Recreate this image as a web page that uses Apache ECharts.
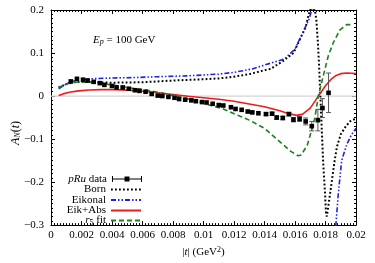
<!DOCTYPE html>
<html><head><meta charset="utf-8">
<script src="https://cdn.jsdelivr.net/npm/echarts@6/dist/echarts.min.js"></script>
<style>html,body{margin:0;padding:0;background:#fff}#c{width:375px;height:263px}</style>
</head><body><div id="c"></div>
<script>
// ---- data ----
const xTicks = [0, 0.002, 0.004, 0.006, 0.008, 0.01, 0.012, 0.014, 0.016, 0.018, 0.02];
const yTicks = [-0.3, -0.2, -0.1, 0, 0.1, 0.2];

// pRu data: |t|, A_N, error
const dataT = [0.0013,0.0017,0.0021,0.0024,0.0028,0.0032,0.0035,0.0040,0.0043,0.0047,0.0051,0.0055,0.0058,0.0062,0.0066,0.0070,0.0073,0.0077,0.0081,0.0084,0.0088,0.0092,0.0095,0.0099,0.0102,0.0106,0.0110,0.0113,0.0118,0.0121,0.0125,0.0129,0.0132,0.0136,0.0141,0.0145,0.0148,0.0152,0.0156,0.0159,0.0163,0.0167,0.0171,0.0175,0.0178,0.0182];
const dataA = [0.034,0.040,0.038,0.036,0.033,0.030,0.026,0.0235,0.020,0.020,0.017,0.0135,0.012,0.010,0.005,0.001,0.000,-0.002,-0.004,-0.007,-0.0085,-0.010,-0.012,-0.014,-0.015,-0.018,-0.021,-0.022,-0.026,-0.030,-0.032,-0.036,-0.038,-0.040,-0.042,-0.041,-0.050,-0.051,-0.042,-0.055,-0.053,-0.059,-0.070,-0.056,-0.028,0.0075];
const dataErr = [0,0,0,0,0,0,0,0,0,0,0,0,0,0,0,0,0,0,0,0,0,0,0,0,0,0,0,0,0,0,0,0,0,0,0.003,0.003,0.004,0.004,0.004,0.005,0.006,0.008,0.011,0.025,0.022,0.046];

const born = [[0.0005,0.020],[0.001,0.028],[0.0015,0.032],[0.002,0.033],[0.003,0.032],[0.004,0.031],[0.006,0.032],[0.008,0.036],[0.010,0.039],[0.011,0.041],[0.012,0.045],[0.013,0.051],[0.014,0.060],[0.0144,0.063],[0.0152,0.081],[0.0159,0.100],[0.0163,0.130],[0.0167,0.160],[0.0169,0.190],[0.0171,0.210],[0.0173,0.200],[0.0174,0.177],[0.0175,0.125],[0.01758,0.070],[0.01775,-0.074],[0.01784,-0.150],[0.01797,-0.227],[0.01803,-0.270],[0.01808,-0.280],[0.01815,-0.265],[0.0183,-0.227],[0.0186,-0.150],[0.01875,-0.118],[0.0190,-0.089],[0.0193,-0.072],[0.0196,-0.059],[0.0200,-0.052]];

const eikonal = [[0.0005,0.017],[0.00125,0.033],[0.0018,0.037],[0.0026,0.040],[0.004,0.042],[0.0055,0.043],[0.007,0.045],[0.009,0.047],[0.011,0.051],[0.012,0.055],[0.0132,0.063],[0.014,0.072],[0.0153,0.086],[0.016,0.109],[0.0165,0.147],[0.0169,0.177],[0.0171,0.200],[0.0173,0.260],null,[0.01855,-0.40],[0.01869,-0.295],[0.01884,-0.227],[0.01906,-0.150],[0.0194,-0.112],[0.0197,-0.090],[0.0200,-0.075]];

const eikAbs = [[0.0005,0.001],[0.0008,0.005],[0.0012,0.009],[0.0018,0.012],[0.0025,0.014],[0.0033,0.015],[0.0042,0.0148],[0.005,0.0138],[0.006,0.011],[0.007,0.0075],[0.008,0.0035],[0.009,-0.0005],[0.010,-0.004],[0.011,-0.0075],[0.012,-0.012],[0.013,-0.0185],[0.014,-0.025],[0.015,-0.034],[0.0155,-0.040],[0.0161,-0.045],[0.0165,-0.042],[0.017,-0.028],[0.0175,-0.002],[0.018,0.024],[0.0184,0.040],[0.0187,0.048],[0.019,0.052],[0.0194,0.0535],[0.0197,0.053],[0.020,0.052]];

const r5fit = [[0.0005,0.020],[0.001,0.028],[0.0015,0.032],[0.002,0.033],[0.003,0.031],[0.004,0.026],[0.005,0.020],[0.006,0.015],[0.007,0.009],[0.0087,-0.004],[0.010,-0.017],[0.0113,-0.030],[0.0124,-0.047],[0.013,-0.056],[0.014,-0.075],[0.0148,-0.100],[0.0157,-0.128],[0.0162,-0.139],[0.0164,-0.137],[0.0168,-0.115],[0.0171,-0.078],[0.0173,-0.051],[0.01753,0.000],[0.01786,0.048],[0.01818,0.093],[0.01851,0.124],[0.01895,0.154],[0.01939,0.166],[0.0197,0.166]];

const zeroLine = [[0,0],[0.02,0]];

// ---- chart ----
const FONT = 'Liberation Serif';
const pts = dataT.map((t,i)=>[t, dataA[i], dataErr[i]]);
const chart = echarts.init(document.getElementById('c'), null, {renderer:'canvas'});

function fmtX(v){ return String(+v.toFixed(4)); }
function fmtY(v){ const r = Math.round(v*10)/10; return r < 0 ? '\u2212' + (-r) : String(r); }

const axisCommon = {
  type:'value',
  axisLine:{show:true, onZero:false, lineStyle:{color:'#000', width:1}},
  axisTick:{show:true, inside:true, length:4, lineStyle:{color:'#000'}},
  minorTick:{show:true, splitNumber:10, length:2, lineStyle:{color:'#000'}},
  splitLine:{show:false},
  minorSplitLine:{show:false}
};

const legendBase = {
  orient:'vertical', align:'right', right:233, padding:0,
  itemWidth:30, itemHeight:8, itemGap:0,
  textStyle:{fontFamily:FONT, fontSize:11, color:'#000', lineHeight:12,
    rich:{i:{fontFamily:FONT, fontSize:11, fontStyle:'italic', lineHeight:12},
          n:{fontFamily:FONT, fontSize:11, lineHeight:12},
          s:{fontFamily:FONT, fontSize:8, lineHeight:12, verticalAlign:'bottom'}}},
  selectedMode:false
};
function legendFmt(n){
  if (n === 'pRu data') return '{i|pRu}{n| data}';
  if (n === 'r5 fit') return '{i|r}{s|5}{n| fit}';
  return n;
}
const legendNames = ['pRu data','Born','Eikonal','Eik+Abs','r5 fit'];
const legendTops = [173, 183.5, 194, 204.5, 214.5];
const legends = legendNames.map((n,i)=>Object.assign({}, legendBase, {
  top: legendTops[i],
  formatter: legendFmt,
  itemStyle: n === 'pRu data' ? {color:'#000'} : {opacity:0},
  data: [n === 'pRu data' ? {name:n, icon:'path://M0,3.5h30v1h-30z M0,1h1v6h-1z M29,1h1v6h-1z M12.5,1.5h5v5h-5z'} : {name:n}]
}));

const option = {
  animation:false,
  backgroundColor:'#fff',
  grid:{left:51, right:19, top:10, bottom:34},
  legend: legends,
  xAxis:[
    Object.assign({}, axisCommon, {min:0, max:0.02, interval:0.002, position:'bottom',
      axisLabel:{formatter:fmtX, fontFamily:FONT, fontSize:11, color:'#000', margin:5},
      name:'|{i|t}| (GeV{sup|2})', nameLocation:'middle', nameGap:17,
      nameTextStyle:{fontFamily:FONT, fontSize:11, color:'#000',
        rich:{i:{fontFamily:FONT, fontSize:11, fontStyle:'italic'}, sup:{fontFamily:FONT, fontSize:8, verticalAlign:'top', padding:[0,0,5,0]}}}}),
    Object.assign({}, axisCommon, {min:0, max:0.02, interval:0.002, position:'top', axisLabel:{show:false}})
  ],
  yAxis:[
    Object.assign({}, axisCommon, {min:-0.3, max:0.2, interval:0.1, position:'left',
      axisLabel:{formatter:fmtY, fontFamily:FONT, fontSize:11, color:'#000', margin:7}}),
    Object.assign({}, axisCommon, {min:-0.3, max:0.2, interval:0.1, position:'right', axisLabel:{show:false}})
  ],
  graphic:[
    {type:'text', x:16, y:133, rotation:Math.PI/2,
      style:{text:'{i|A}{s|N}({i|t})', fontFamily:FONT, fontSize:12, fill:'#000', align:'center', verticalAlign:'middle',
        rich:{i:{fontFamily:FONT, fontSize:12, fontStyle:'italic'}, s:{fontFamily:FONT, fontSize:8, fontStyle:'italic', verticalAlign:'bottom', padding:[4,0,0,0]}}}},
    {type:'text', x:93, y:40,
      style:{text:'{i|E}{s|p} = 100 GeV', fontFamily:FONT, fontSize:11, fill:'#000', align:'left', verticalAlign:'middle',
        rich:{i:{fontFamily:FONT, fontSize:11, fontStyle:'italic'}, s:{fontFamily:FONT, fontSize:8, fontStyle:'italic', verticalAlign:'bottom', padding:[4,0,0,0]}}}}
  ],
  series:[
    {name:'zero', type:'line', data:zeroLine, symbol:'none', silent:true, z:1,
      lineStyle:{color:'#d4d4d4', width:1.2}},
    {name:'Born', type:'line', data:born, symbol:'none', clip:true, z:3, connectNulls:false,
      lineStyle:{color:'#000', width:2, type:[1.8,2.2]}, itemStyle:{color:'#000'}},
    {name:'Eikonal', type:'line', data:eikonal, symbol:'none', clip:true, z:3, connectNulls:false,
      lineStyle:{color:'#1f1fe6', width:1.6, type:[5,2,1.5,2,1.5,2]}, itemStyle:{color:'#1f1fe6'}},
    {name:'Eik+Abs', type:'line', data:eikAbs, symbol:'none', clip:true, z:3,
      lineStyle:{color:'#f01a1a', width:1.6}, itemStyle:{color:'#f01a1a'}},
    {name:'r5 fit', type:'line', data:r5fit, symbol:'none', clip:true, z:3,
      lineStyle:{color:'#1d801d', width:1.6, type:[5,3]}, itemStyle:{color:'#1d801d'}},
    {name:'pRu data', type:'custom', data:pts, z:4, clip:true,
      encode:{x:0, y:1},
      itemStyle:{color:'#000'},
      renderItem:function(params, api){
        const x = api.value(0), y = api.value(1), e = api.value(2);
        const p = api.coord([x, y]);
        const ch = [];
        if (e > 0) {
          const top = api.coord([x, y+e])[1], bot = api.coord([x, y-e])[1];
          ch.push({type:'line', shape:{x1:p[0], y1:top, x2:p[0], y2:bot}, style:{stroke:'#555', lineWidth:1}});
          ch.push({type:'line', shape:{x1:p[0]-2.5, y1:top, x2:p[0]+2.5, y2:top}, style:{stroke:'#555', lineWidth:1}});
          ch.push({type:'line', shape:{x1:p[0]-2.5, y1:bot, x2:p[0]+2.5, y2:bot}, style:{stroke:'#555', lineWidth:1}});
        }
        ch.push({type:'rect', shape:{x:p[0]-2.3, y:p[1]-2.3, width:4.6, height:4.6}, style:{fill:'#000'}});
        return {type:'group', children:ch};
      }}
  ]
};
chart.setOption(option);
</script>
</body></html>
